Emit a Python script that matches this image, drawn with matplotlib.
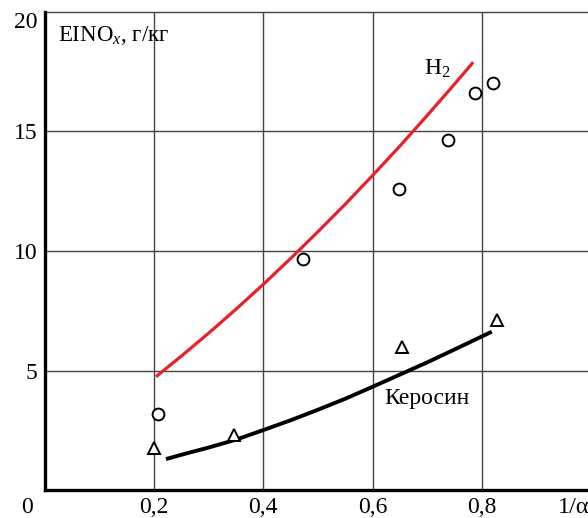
import matplotlib
matplotlib.use("Agg")
import matplotlib.pyplot as plt

plt.rcParams['font.family'] = ['Liberation Serif', 'DejaVu Serif']
plt.rcParams['mathtext.fontset'] = 'custom'
plt.rcParams['mathtext.rm'] = 'Liberation Serif'
plt.rcParams['mathtext.it'] = 'Liberation Serif:italic'

# H2 experimental points (circles)
h2_x = [0.208, 0.473, 0.648, 0.738, 0.788, 0.821]
h2_y = [3.18, 9.68, 12.61, 14.62, 16.61, 17.03]
# H2 curve (read points)
h2c_x = [0.2036, 0.25, 0.30, 0.35, 0.40, 0.45, 0.50, 0.55, 0.60, 0.65, 0.70, 0.75, 0.784]
h2c_y = [4.75, 5.61, 6.57, 7.57, 8.61, 9.69, 10.81, 11.96, 13.16, 14.39, 15.67, 16.98, 17.89]
# Kerosene experimental points (triangles)
ker_x = [0.200, 0.347, 0.654, 0.828]
ker_y = [1.76, 2.30, 6.01, 7.13]
# Kerosene curve (read points)
kerc_x = [0.222, 0.26, 0.30, 0.35, 0.40, 0.45, 0.50, 0.55, 0.60, 0.65, 0.70, 0.75, 0.818]
kerc_y = [1.31, 1.55, 1.79, 2.12, 2.52, 2.93, 3.37, 3.83, 4.33, 4.84, 5.35, 5.89, 6.63]

x_ticks = [0.2, 0.4, 0.6, 0.8]
x_labels = ['0,2', '0,4', '0,6', '0,8']
y_ticks = [5, 10, 15, 20]
y_labels = ['5', '10', '15', '20']

fig = plt.figure(figsize=(5.88, 5.18), dpi=100)
ax = fig.add_axes([0.076, 0.0533, 0.924, 0.9241])
ax.set_xlim(0, 0.994)
ax.set_ylim(0, 20)

grid_c = '#444444'
for xv in x_ticks:
    ax.axvline(xv, color=grid_c, lw=1.0, zorder=1)
for yv in y_ticks:
    ax.axhline(yv, color=grid_c, lw=1.0, zorder=1, clip_on=False)

ax.plot(h2c_x, h2c_y, color='#e8202a', lw=2.3, zorder=3, solid_capstyle='butt')
ax.plot(kerc_x, kerc_y, color='black', lw=2.8, zorder=3, solid_capstyle='butt')
ax.plot(h2_x, h2_y, 'o', ms=8.5, mfc='white', mec='black', mew=1.4, zorder=4, linestyle='none')
ax.plot(ker_x, ker_y, '^', ms=9, mfc='white', mec='black', mew=1.4, zorder=4, linestyle='none')

ax.spines['top'].set_visible(False)
ax.spines['right'].set_visible(False)
ax.spines['left'].set_linewidth(2.4)
ax.spines['bottom'].set_linewidth(2.4)

ax.set_xticks(x_ticks)
ax.set_xticklabels(x_labels)
ax.set_yticks(y_ticks)
ax.set_yticklabels(y_labels)
ax.tick_params(length=0, labelsize=17)
ax.tick_params(axis='x', pad=5)
ax.tick_params(axis='y', pad=5)
ax.get_yticklabels()[-1].set_va('top')

ax.annotate('0', xy=(0, 0), xycoords='data', xytext=(-13, -5), textcoords='offset points',
            fontsize=17, ha='center', va='top', annotation_clip=False)
ax.annotate('1/α', xy=(0.994, 0), xycoords='data', xytext=(-22, -5), textcoords='offset points',
            fontsize=17.5, ha='left', va='top', annotation_clip=False)
ax.text(0.025, 19.0, r'EINO$_{x}$, г/кг', fontsize=16.5, ha='left', va='center')
ax.text(0.694, 17.6, r'H$_2$', fontsize=17, ha='left', va='center')
ax.text(0.70, 3.85, 'Керосин', fontsize=17, ha='center', va='center')

fig.savefig('out.png', dpi=100)
